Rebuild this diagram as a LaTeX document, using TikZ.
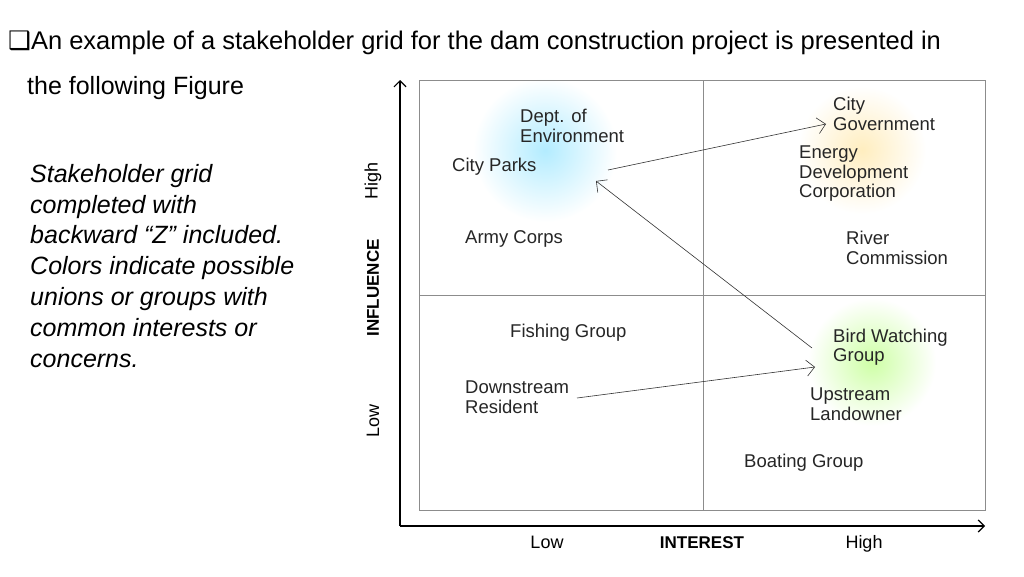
\documentclass[tikz,border=0pt]{standalone}
\usepackage{fontspec}
\setmainfont{Liberation Sans}
\newfontfamily\symf{DejaVu Sans}
\usetikzlibrary{arrows.meta}
\begin{document}
\begin{tikzpicture}[x=1pt,y=-1pt,
 lab/.style={anchor=west,align=left,font=\fontsize{18.5}{19.5}\selectfont,inner sep=0pt,text=black!85},
 ax/.style={font=\fontsize{18}{19}\selectfont,inner sep=0pt},
 arr/.style={-{Straight Barb[length=8pt]},semithick,black!80}]
\useasboundingbox (0,0) rectangle (1024,576);
\fill[white] (0,0) rectangle (1024,576);
\shade[inner color=blue!25!cyan!30, outer color=white] (545,150) circle (72);
\shade[inner color=yellow!45!orange!25, outer color=white] (862,150) circle (64);
\shade[inner color=green!40!lime!35, outer color=white] (872,362) circle (64);
\draw[black!45] (419,80) rectangle (985,510);
\draw[black!45] (703,80) -- (703,510) (419,295) -- (985,295);
\draw[very thick,-{Straight Barb[length=6pt]}] (400,526) -- (400,80);
\draw[very thick,-{Straight Barb[length=6pt]}] (400,526) -- (985,526);
\node[ax,anchor=base] (xl) at (547,548) {Low};
\node[ax,anchor=base,font=\fontsize{17}{18}\selectfont\bfseries] (xi) at (702,548) {INTEREST};
\node[ax,anchor=base] (xh) at (864,548) {High};
\node[ax,rotate=90] (yh) at (373,181) {High};
\node[ax,rotate=90,font=\fontsize{17}{18}\selectfont\bfseries] (yi) at (373,288) {INFLUENCE};
\node[ax,rotate=90] (yl) at (373,421) {Low};
\node[anchor=west,inner sep=0pt,font=\fontsize{25.5}{27}\selectfont] (t1) at (8,43) {{\symf ❑}An example of a stakeholder grid for the dam construction project is presented in};
\node[anchor=west,inner sep=0pt,font=\fontsize{25}{27}\selectfont] (t2) at (27,88) {the following Figure};
\node[anchor=north west,align=left,inner sep=0pt,font=\fontsize{25}{30.8}\selectfont\itshape] (p) at (30,164) {Stakeholder grid\\completed with\\backward “Z” included.\\Colors indicate possible\\unions or groups with\\common interests or\\concerns.};
\node[lab] (de) at (520,126) {Dept. of\\Environment};
\node[lab] (cp) at (452,167) {City Parks};
\node[lab] (ac) at (465,239) {Army Corps};
\node[lab] (cg) at (833,114) {City\\Government};
\node[lab] (ed) at (799,174) {Energy\\Development\\Corporation};
\node[lab] (rc) at (846,248) {River\\Commission};
\node[lab] (fg) at (510,333) {Fishing Group};
\node[lab] (dr) at (465,397) {Downstream\\Resident};
\node[lab] (bw) at (833,347) {Bird Watching\\Group};
\node[lab] (ul) at (810,404) {Upstream\\Landowner};
\node[lab] (bg) at (744,463) {Boating Group};
\coordinate (a1) at (608,170); \coordinate (a2) at (826,124);
\coordinate (b1) at (812,348); \coordinate (b2) at (596,181);
\coordinate (c1) at (577,398); \coordinate (c2) at (815,367);
\draw[arr] (a1) -- (a2);
\draw[arr] (b1) -- (b2);
\draw[arr] (c1) -- (c2);
\end{tikzpicture}
\end{document}
